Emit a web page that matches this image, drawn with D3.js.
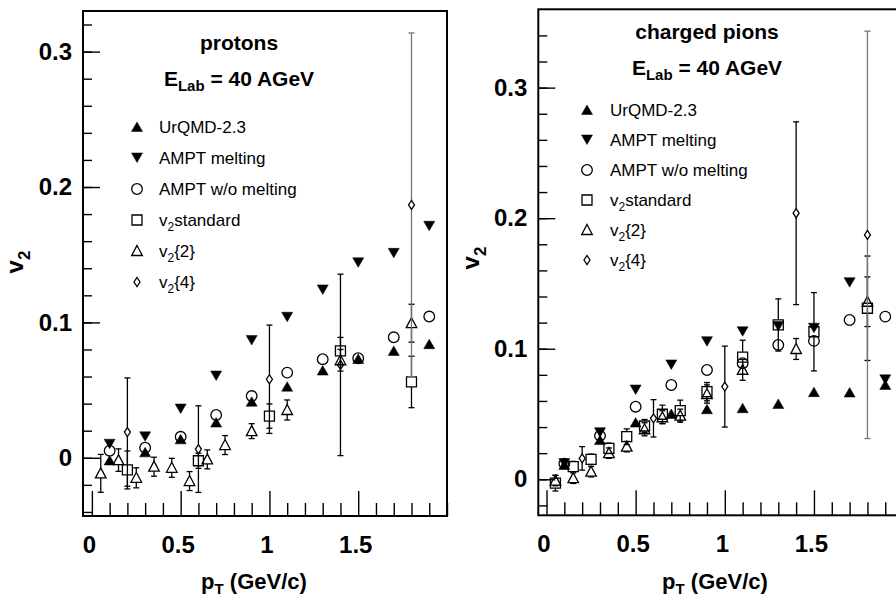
<!DOCTYPE html>
<html>
<head>
<meta charset="utf-8">
<script src="https://cdn.jsdelivr.net/npm/d3@7"></script>
<style>
  html, body { margin: 0; padding: 0; background: #fff; }
  svg { display: block; font-family: "Liberation Sans", Arial, Helvetica, sans-serif; }
</style>
</head>
<body>
<div id="chart"></div>
<script>
// ----------------------------------
// DATA  ([pT, v2] or [pT, v2, error])
// ----------------------------------

const seriesNames = ["UrQMD-2.3", "AMPT melting", "AMPT w/o melting", "v2standard", "v2{2}", "v2{4}"];
const xTickLabels = [0, 0.5, 1, 1.5];
const yTickLabels = [0, 0.1, 0.2, 0.3];

// protons
const pUrqmd = [[0.1,-0.002],[0.3,0.004],[0.5,0.0136],[0.7,0.026],[0.9,0.0414],[1.1,0.0525],[1.3,0.0644],[1.5,0.073],[1.7,0.0789],[1.9,0.0839]];
const pAmptMelt = [[0.1,0.010],[0.3,0.0155],[0.5,0.036],[0.7,0.0604],[0.9,0.0866],[1.1,0.1038],[1.3,0.124],[1.5,0.144],[1.7,0.151],[1.9,0.171]];
const pAmptNoMelt = [[0.1,0.0052],[0.3,0.0074],[0.5,0.0155],[0.7,0.0316],[0.9,0.0456],[1.1,0.0629],[1.3,0.0728],[1.5,0.0735],[1.7,0.089],[1.9,0.1043]];
const pStandard = [[0.2,-0.009,0.014],[0.6,-0.0022,0.0056],[1.0,0.0308,0.009],[1.4,0.0789,0.010],[1.8,0.056,0.019]];
const pCum2 = [[0.05,-0.0115,0.014],[0.15,-0.0017,0.0083],[0.25,-0.0148,0.0074],[0.35,-0.0066,0.007],[0.45,-0.0074,0.007],[0.55,-0.0172,0.007],[0.65,-0.0012,0.007],[0.75,0.0094,0.007],[0.9,0.0197,0.0055],[1.1,0.0353,0.0074],[1.4,0.072,0.008],[1.8,0.0994,0.014]];
const pCum4 = [[0.2,0.019,0.040],[0.6,0.0064,0.032],[1.0,0.058,0.040],[1.4,0.0686,0.067],[1.8,0.1868,0.127]];

// charged pions
const piUrqmd = [[0.1,0.011],[0.3,0.030],[0.5,0.0434],[0.7,0.050],[0.9,0.0536],[1.1,0.0544],[1.3,0.0577],[1.5,0.0667],[1.7,0.0664],[1.9,0.0722]];
const piAmptMelt = [[0.1,0.012],[0.3,0.0357],[0.5,0.0684],[0.7,0.0876],[0.9,0.1054],[1.1,0.113],[1.3,0.117],[1.5,0.1157],[1.7,0.1506],[1.9,0.0762]];
const piAmptNoMelt = [[0.1,0.012],[0.3,0.0334],[0.5,0.0556],[0.7,0.0722],[0.9,0.0837],[1.1,0.0889],[1.3,0.1029],[1.5,0.106],[1.7,0.122],[1.9,0.1246]];
const piStandard = [[0.05,-0.003,0.006],[0.15,0.0097,0.004],[0.25,0.0153,0.004],[0.35,0.0237,0.004],[0.45,0.0326,0.006],[0.55,0.0408,0.005],[0.65,0.0498,0.007],[0.75,0.0526,0.008],[0.9,0.0671,0.007],[1.1,0.0935,0.013],[1.3,0.1182,0.020],[1.5,0.113,0.030],[1.8,0.131,0.040]];
const piCum2 = [[0.05,-0.001,0.004],[0.15,0.0008,0.004],[0.25,0.0058,0.004],[0.35,0.020,0.004],[0.45,0.025,0.004],[0.55,0.0383,0.005],[0.65,0.0475,0.005],[0.75,0.0487,0.005],[0.9,0.0653,0.007],[1.1,0.0838,0.008],[1.4,0.0998,0.008],[1.8,0.136,0.019]];
const piCum4 = [[0.2,0.016,0.009],[0.6,0.0467,0.0143],[1.0,0.071,0.031],[1.4,0.2038,0.07],[1.8,0.1872,0.156]];

// ----------------------------------
// MARKERS
// ----------------------------------

const markers = {
	triUp:   { d: 'M0,-5L5.5,4.5L-5.5,4.5Z', fill: '#000', top: 5, bot: 4.5 },
	triDown: { d: 'M0,4.5L5.5,-5L-5.5,-5Z', fill: '#000', top: 5, bot: 4.5 },
	circle:  { d: 'M5.3,0A5.3,5.3 0 1,1 -5.3,0A5.3,5.3 0 1,1 5.3,0Z', fill: 'none', top: 5.3, bot: 5.3 },
	square:  { d: 'M-5,-5H5V5H-5Z', fill: 'none', top: 5, bot: 5 },
	triOpen: { d: 'M0,-5.5L5.3,4.5L-5.3,4.5Z', fill: 'none', top: 5.5, bot: 4.5 },
	diamond: { d: 'M0,-4.5L3,0L0,4.5L-3,0Z', fill: 'none', top: 4.5, bot: 4.5 }
};
const markerOrder = ['triUp', 'triDown', 'circle', 'square', 'triOpen', 'diamond'];

const W = 896, H = 597;

const svg = d3.select('#chart')
	.append('svg')
	.attr('width', W)
	.attr('height', H);

function drawPanel(cfg) {
	const x = d3.scaleLinear().domain(cfg.xDomain).range([cfg.x0, cfg.x1]);
	const y = d3.scaleLinear().domain(cfg.yDomain).range([cfg.y1, cfg.y0]);
	const g = svg.append('g');

	// minor + major ticks
	const xMinor = d3.range(0, 21).map(i => i / 10).filter(v => !xTickLabels.includes(v));
	const yMinor = d3.range(-2, 18).map(i => +(i * 0.02).toFixed(2))
		.filter(v => v >= cfg.yDomain[0] && v <= cfg.yDomain[1]);

	const styleAxis = sel => {
		sel.select('.domain').remove();
		sel.selectAll('line').attr('stroke', '#000').attr('stroke-width', 1.4);
		sel.selectAll('text')
			.attr('fill', '#000')
			.attr('font-size', 24)
			.attr('font-weight', 'bold')
			.attr('font-family', '"Liberation Sans", Arial, sans-serif');
	};

	g.append('g').attr('transform', `translate(${cfg.x0},0)`)
		.call(d3.axisLeft(y).tickValues(yMinor).tickSize(-9).tickFormat(''))
		.call(styleAxis);
	g.append('g').attr('transform', `translate(${cfg.x0},0)`)
		.call(d3.axisLeft(y).tickValues(yTickLabels).tickSize(-17).tickPadding(11).tickFormat(d => `${d}`))
		.call(styleAxis);
	g.append('g').attr('transform', `translate(0,${cfg.y1})`)
		.call(d3.axisBottom(x).tickValues(xMinor).tickSize(-13).tickFormat(''))
		.call(styleAxis);
	g.append('g').attr('transform', `translate(0,${cfg.y1})`)
		.call(d3.axisBottom(x).tickValues(xTickLabels).tickSize(-25).tickPadding(20).tickFormat(d => `${d}`))
		.call(styleAxis)
		.selectAll('text').attr('dx', -3);

	// frame
	g.append('rect')
		.attr('x', cfg.x0).attr('y', cfg.y0)
		.attr('width', cfg.x1 - cfg.x0).attr('height', cfg.y1 - cfg.y0)
		.attr('fill', 'none').attr('stroke', '#000').attr('stroke-width', 2);

	// series
	cfg.series.forEach((data, i) => {
		const m = markers[markerOrder[i]];
		const isDiamond = markerOrder[i] === 'diamond';
		const s = g.append('g');
		const withErr = data.filter(d => d.length > 2);
		const bars = s.selectAll('g.err').data(withErr).enter().append('g').attr('class', 'err')
			.attr('stroke', d => isDiamond && d[2] > 0.1 ? '#777' : '#000')
			.attr('stroke-width', 1.3);
		// bar stops at marker edge, like ROOT
		bars.append('line')
			.attr('x1', d => x(d[0])).attr('x2', d => x(d[0]))
			.attr('y1', d => y(d[1] + d[2]))
			.attr('y2', d => y(d[1]) - m.top)
			.attr('display', d => (y(d[1]) - y(d[1] + d[2])) > m.top ? null : 'none');
		bars.append('line')
			.attr('x1', d => x(d[0])).attr('x2', d => x(d[0]))
			.attr('y1', d => y(d[1]) + m.bot)
			.attr('y2', d => y(d[1] - d[2]))
			.attr('display', d => (y(d[1] - d[2]) - y(d[1])) > m.bot ? null : 'none');
		bars.append('line')
			.attr('x1', d => x(d[0]) - 3).attr('x2', d => x(d[0]) + 3)
			.attr('y1', d => y(d[1] + d[2])).attr('y2', d => y(d[1] + d[2]));
		bars.append('line')
			.attr('x1', d => x(d[0]) - 3).attr('x2', d => x(d[0]) + 3)
			.attr('y1', d => y(d[1] - d[2])).attr('y2', d => y(d[1] - d[2]));

		s.selectAll('path').data(data).enter().append('path')
			.attr('d', m.d)
			.attr('transform', d => `translate(${x(d[0])},${y(d[1])})`)
			.attr('fill', m.fill)
			.attr('stroke', '#000')
			.attr('stroke-width', m.fill === 'none' ? 1.3 : 0.5);
	});

	// titles
	g.append('text')
		.attr('x', cfg.titleX).attr('y', cfg.titleY)
		.attr('text-anchor', 'middle')
		.attr('font-size', 21).attr('font-weight', 'bold')
		.text(cfg.title);

	const e = g.append('text')
		.attr('x', cfg.titleX).attr('y', cfg.titleY + 36)
		.attr('text-anchor', 'middle')
		.attr('font-size', 21).attr('font-weight', 'bold');
	e.append('tspan').text('E');
	e.append('tspan').attr('font-size', 15).attr('dy', 5).text('Lab');
	e.append('tspan').attr('dy', -5).text(' = 40 AGeV');

	// legend
	const leg = g.append('g').selectAll('g').data(seriesNames).enter().append('g')
		.attr('transform', (d, i) => `translate(0,${cfg.legY + i * cfg.legStep})`);
	leg.append('path')
		.attr('d', (d, i) => markers[markerOrder[i]].d)
		.attr('transform', `translate(${cfg.legMarkX},0)`)
		.attr('fill', (d, i) => markers[markerOrder[i]].fill)
		.attr('stroke', '#000')
		.attr('stroke-width', (d, i) => markers[markerOrder[i]].fill === 'none' ? 1.3 : 0.5);
	const lt = leg.append('text')
		.attr('x', cfg.legTextX).attr('y', 6)
		.attr('font-size', 17);
	lt.each(function(d) {
		const t = d3.select(this);
		if (d.startsWith('v2')) {
			t.append('tspan').text('v');
			t.append('tspan').attr('font-size', 12).attr('dy', 5).text('2');
			t.append('tspan').attr('dy', -5).text(d.slice(2));
		} else {
			t.text(d);
		}
	});

	// axis titles
	const xt = g.append('text')
		.attr('x', cfg.xTitleX).attr('y', 589)
		.attr('text-anchor', 'middle')
		.attr('font-size', 22).attr('font-weight', 'bold');
	xt.append('tspan').text('p');
	xt.append('tspan').attr('font-size', 15).attr('dy', 5).text('T');
	xt.append('tspan').attr('dy', -5).text(' (GeV/c)');

	const yt = g.append('text')
		.attr('transform', `translate(${cfg.yTitleX},${cfg.yTitleY}) rotate(-90)`)
		.attr('text-anchor', 'middle')
		.attr('font-size', 24).attr('font-weight', 'bold');
	yt.append('tspan').text('v');
	yt.append('tspan').attr('font-size', 17).attr('dy', 7).text('2');
}

drawPanel({
	title: 'protons',
	x0: 83, x1: 447, y0: 11, y1: 516,
	xDomain: [-0.05, 2.0], yDomain: [-0.043, 0.330],
	series: [pUrqmd, pAmptMelt, pAmptNoMelt, pStandard, pCum2, pCum4],
	titleX: 239, titleY: 50,
	legMarkX: 137, legTextX: 159, legY: 127, legStep: 31,
	xTitleX: 254, yTitleX: 23, yTitleY: 262
});

drawPanel({
	title: 'charged pions',
	x0: 538.3, x1: 903.1, y0: 9.3, y1: 515.3,
	xDomain: [-0.046, 2.0], yDomain: [-0.0276, 0.360],
	series: [piUrqmd, piAmptMelt, piAmptNoMelt, piStandard, piCum2, piCum4],
	titleX: 707, titleY: 39,
	legMarkX: 587, legTextX: 610, legY: 110, legStep: 30,
	xTitleX: 715, yTitleX: 479, yTitleY: 258
});
</script>
</body>
</html>
